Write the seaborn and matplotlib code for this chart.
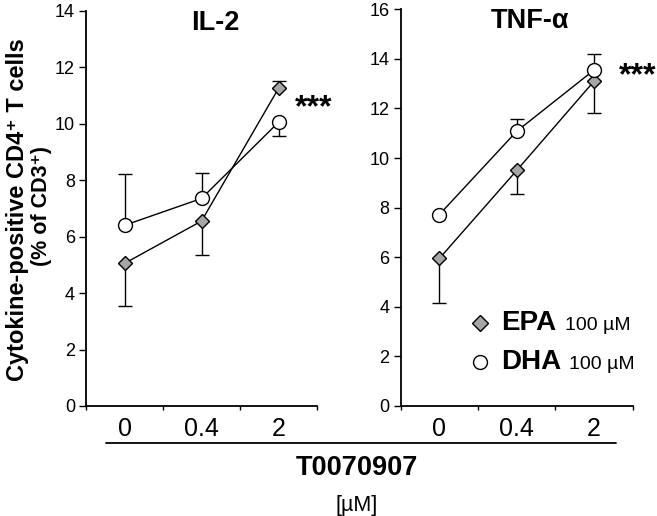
import pandas as pd
import seaborn as sns
import matplotlib.pyplot as plt
from matplotlib.lines import Line2D

sns.set_style('ticks')
plt.rcParams['font.family'] = ['Liberation Sans', 'DejaVu Sans']
plt.rcParams['text.color'] = 'black'
plt.rcParams['xtick.color'] = 'black'
plt.rcParams['ytick.color'] = 'black'
plt.rcParams['axes.labelcolor'] = 'black'

# doses of T0070907 [µM]
doses = ['0', '0.4', '2']

# IL-2 panel
il2_epa = [5.05, 6.55, 11.25]
il2_epa_lo = [1.5, 1.2, 0.0]
il2_epa_hi = [0.0, 0.0, 0.25]
il2_dha = [6.4, 7.35, 10.05]
il2_dha_lo = [0.0, 0.0, 0.5]
il2_dha_hi = [1.8, 0.92, 0.0]

# TNF-alpha panel
tnf_epa = [5.95, 9.5, 13.1]
tnf_epa_lo = [1.8, 0.95, 1.3]
tnf_epa_hi = [0.0, 0.0, 0.0]
tnf_dha = [7.72, 11.08, 13.55]
tnf_dha_lo = [0.0, 0.0, 0.0]
tnf_dha_hi = [0.0, 0.48, 0.65]

panels = [
    ('IL-2', 14, il2_epa, il2_epa_lo, il2_epa_hi, il2_dha, il2_dha_lo, il2_dha_hi, (10.55, 2.46)),
    ('TNF-α', 16, tnf_epa, tnf_epa_lo, tnf_epa_hi, tnf_dha, tnf_dha_lo, tnf_dha_hi, (13.3, 2.56)),
]

fig = plt.figure(figsize=(6.57, 5.16), dpi=100)
ax1 = fig.add_axes([0.1309, 0.2132, 0.3516, 0.766])
ax2 = fig.add_axes([0.6099, 0.2132, 0.3531, 0.7688])

styles = {
    'EPA': dict(marker='D', mfc='#a6a6a6', ms=7.6),
    'DHA': dict(marker='o', mfc='white', ms=10),
}

for ax, (title, ymax, epa, epa_lo, epa_hi, dha, dha_lo, dha_hi, star) in zip([ax1, ax2], panels):
    for name, vals, lo, hi in [('EPA', epa, epa_lo, epa_hi), ('DHA', dha, dha_lo, dha_hi)]:
        df = pd.DataFrame({'dose': doses, 'val': vals})
        pos = list(range(len(doses)))
        ax.errorbar(pos, vals, yerr=[lo, hi], fmt='none', ecolor='black',
                    elinewidth=1, capsize=4.7, capthick=1, zorder=1)
        sns.pointplot(data=df, x='dose', y='val', order=doses, color='black',
                      markers=styles[name]['marker'], markerfacecolor=styles[name]['mfc'],
                      markeredgecolor='black', markeredgewidth=1,
                      markersize=styles[name]['ms'], linewidth=1, errorbar=None,
                      ax=ax, zorder=3)
    ax.set_xlim(-0.5, 2.5)
    ax.set_ylim(0, ymax)
    ax.set_yticks(range(0, ymax + 1, 2))
    ax.set_xticks([0, 1, 2])
    ax.set_xticklabels(doses)
    ax.set_xticks([-0.5, 0.5, 1.5, 2.5], minor=True)
    ax.tick_params(axis='x', which='major', length=0, labelsize=18, pad=8)
    ax.tick_params(axis='x', which='minor', length=3, width=1, direction='out')
    ax.tick_params(axis='y', length=5, width=1, labelsize=13, pad=3)
    ax.set_xlabel('')
    ax.set_ylabel('')
    for s in ['left', 'bottom']:
        ax.spines[s].set_linewidth(1.3)
        ax.spines[s].set_color('black')
    sns.despine(ax=ax)
    ax.text(0.558, 0.97, title, transform=ax.transAxes, ha='center', va='center',
            fontsize=19.5, fontweight='bold')
    ax.text(star[1], star[0], '***', ha='center', va='center', fontsize=23,
            fontweight='bold', clip_on=False)

# legend in right panel
leg_y = [323, 362]
for (name, marker, mfc, ms, x2), yp in zip([('EPA', 'D', '#a6a6a6', 8, 565), ('DHA', 'o', 'white', 10, 569)], leg_y):
    fy = 1 - yp / 516
    fig.add_artist(Line2D([480 / 657], [fy], ls='none', marker=marker, mfc=mfc,
                          mec='black', mew=1, ms=ms))
    fig.text(501 / 657, fy, name, fontsize=20, fontweight='bold', va='center', ha='left')
    fig.text(x2 / 657, fy - 0.004, '100 µM', fontsize=14, va='center', ha='left')

# y labels
fig.text(18 / 657, 1 - 210 / 516, 'Cytokine-positive CD4⁺ T cells', rotation=90,
         ha='center', va='center', fontsize=17, fontweight='bold')
fig.text(42 / 657, 1 - 206 / 516, '(% of CD3⁺)', rotation=90,
         ha='center', va='center', fontsize=15.5, fontweight='bold')

# bottom bracket and label
fig.add_artist(Line2D([106 / 657, 616 / 657], [1 - 443 / 516] * 2, color='black', lw=1.3))
fig.text(357 / 657, 1 - 468 / 516, 'T0070907', ha='center', va='center',
         fontsize=19.5, fontweight='bold')
fig.text(357 / 657, 1 - 505 / 516, '[µM]', ha='center', va='center', fontsize=15.5)

fig.savefig('out.png', dpi=100)
